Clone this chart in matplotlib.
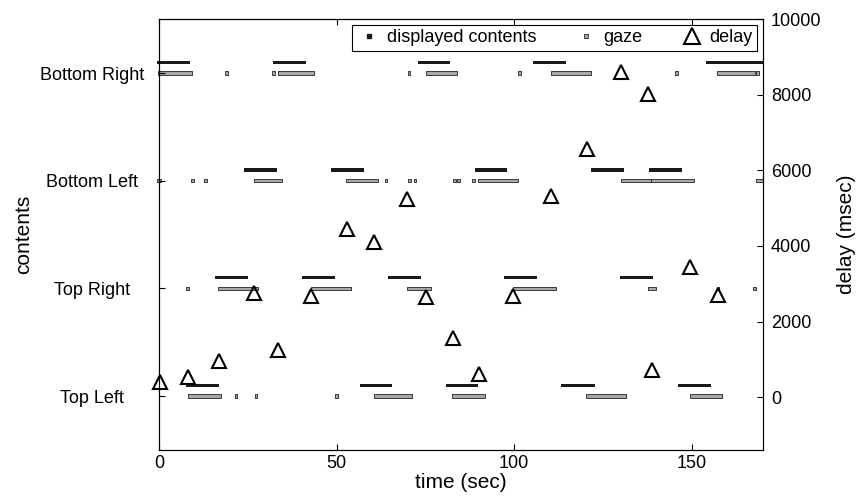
import matplotlib
matplotlib.use('Agg')
import matplotlib.pyplot as plt
from matplotlib.lines import Line2D

plt.rcParams['font.family'] = ['Liberation Sans', 'DejaVu Sans']

contents = ['Top Left', 'Top Right', 'Bottom Left', 'Bottom Right']

# displayed-content intervals (sec), one list per content row
shown_top_left = [(7.6, 16.9), (56.6, 65.5), (80.8, 89.9), (113.3, 122.7), (146.0, 155.4)]
shown_top_right = [(15.8, 25.0), (40.2, 49.5), (64.5, 73.7), (97.1, 106.3), (129.7, 139.0)]
shown_bottom_left = [(23.9, 33.1), (48.4, 57.7), (88.9, 98.1), (121.6, 130.9), (137.9, 147.2)]
shown_bottom_right = [(-0.7, 8.7), (32.0, 41.4), (73.0, 81.9), (105.2, 114.6), (154.1, 170.0)]

# gaze intervals (sec)
gaze_top_left = [(8.2, 17.6), (21.3, 22.1), (26.9, 27.7), (49.6, 50.4), (60.6, 71.1),
                 (82.6, 91.8), (120.2, 131.6), (149.4, 158.4)]
gaze_top_right = [(7.6, 8.4), (16.7, 27.9), (42.9, 54.0), (69.7, 76.5), (99.8, 111.7),
                  (137.7, 139.8), (157.0, 157.8), (167.3, 168.1)]
gaze_bottom_left = [(-0.6, 0.6), (9.1, 9.9), (12.8, 13.6), (26.8, 34.5), (52.6, 61.8),
                    (63.5, 64.3), (70.2, 71.0), (71.7, 72.5), (82.7, 83.5), (84.0, 84.8),
                    (88.1, 88.9), (89.7, 101.1), (130.0, 138.4), (138.4, 150.6), (168.0, 170.0)]
gaze_bottom_right = [(-0.4, 9.2), (18.5, 19.3), (31.8, 32.6), (33.4, 43.7), (70.0, 70.8),
                     (75.1, 83.8), (101.0, 101.8), (110.5, 121.5), (145.3, 146.1),
                     (157.0, 167.7), (168.0, 168.8)]

shown = [shown_top_left, shown_top_right, shown_bottom_left, shown_bottom_right]
gaze = [gaze_top_left, gaze_top_right, gaze_bottom_left, gaze_bottom_right]

# delay between gaze shift and content switch
delay_time = [0.3, 8.2, 16.8, 26.8, 33.4, 42.9, 52.9, 60.6, 69.7, 75.1,
              82.7, 90.1, 99.8, 110.3, 120.4, 130.2, 137.7, 138.7, 149.4, 157.4]
delay_ms = [391, 523, 949, 2764, 1258, 2667, 4457, 4112, 5255, 2658,
            1577, 611, 2685, 5334, 6557, 8594, 8010, 718, 3437, 2711]

fig = plt.figure(figsize=(8.58, 5.04), dpi=100)
ax = fig.add_axes([0.1853, 0.107, 0.7037, 0.855])

for i, (s, g) in enumerate(zip(shown, gaze)):
    row = i + 1
    ax.broken_barh([(a, b - a) for a, b in s], (row + 0.1 - 0.016, 0.032),
                   facecolors='#1a1a1a', edgecolors='none', clip_on=False)
    ax.broken_barh([(a, b - a) for a, b in g], (row - 0.016, 0.032),
                   facecolors='#a8a8a8', edgecolors='#222222', linewidth=0.6, clip_on=False)

ax.set_xlim(0, 170)
ax.set_ylim(0.5, 4.5)
ax.set_xticks([0, 50, 100, 150])
ax.set_yticks([1, 2, 3, 4])
ax.set_yticklabels(contents, ha='center')
ax.tick_params(axis='both', direction='in', length=4, labelsize=13, top=True)
ax.tick_params(axis='y', pad=48)
ax.set_xlabel('time (sec)', fontsize=15, labelpad=1)
ax.set_ylabel('contents', fontsize=15, labelpad=5)

ax2 = ax.twinx()
ax2.plot(delay_time, delay_ms, linestyle='none', marker='^', ms=10,
         mfc='none', mec='black', mew=1.5, clip_on=False)
ax2.set_ylim(-1400, 10000)
ax2.set_yticks([0, 2000, 4000, 6000, 8000, 10000])
ax2.tick_params(axis='y', direction='in', length=4, labelsize=13, pad=6)
ax2.set_ylabel('delay (msec)', fontsize=15, labelpad=11)

handles = [
    Line2D([], [], linestyle='none', marker='s', ms=3.5, mfc='#1a1a1a', mec='#1a1a1a'),
    Line2D([], [], linestyle='none', marker='s', ms=3.5, mfc='#a8a8a8', mec='#222222', mew=0.6),
    Line2D([], [], linestyle='none', marker='^', ms=11, mfc='none', mec='black', mew=1.5),
]
leg = ax2.legend(handles, ['displayed contents', 'gaze', 'delay'], loc='upper right',
                 ncol=3, fontsize=13, fancybox=False, edgecolor='black', framealpha=1,
                 borderaxespad=0.3, borderpad=0.25, handletextpad=0.3,
                 columnspacing=2.0, handlelength=1.4)
leg.get_frame().set_linewidth(0.8)

fig.savefig('out.png', dpi=100)
